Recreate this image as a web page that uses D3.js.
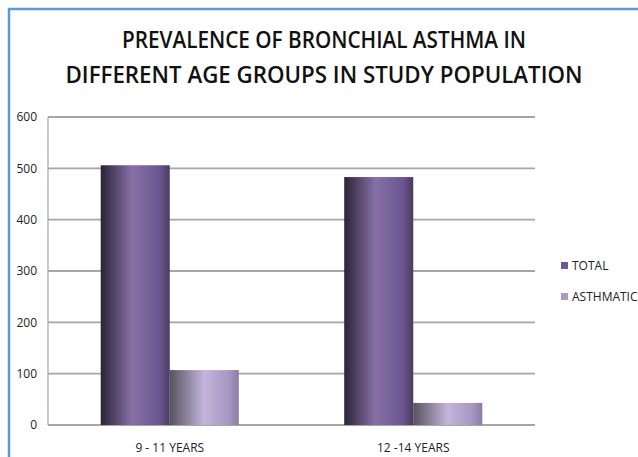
<!DOCTYPE html>
<html>
<head>
<meta charset="utf-8">
<script src="https://cdn.jsdelivr.net/npm/d3@7"></script>
<style>
  body { margin: 0; background: #fff; }
  svg text { font-family: "Liberation Sans Narrow", "Open Sans", sans-serif; }
</style>
</head>
<body>
<div id="visualization"></div>
<script>
/*************************************/
/* Data                              */
/*************************************/

const categories = ['9 - 11 YEARS', '12 -14 YEARS'];
const seriesNames = ['TOTAL', 'ASTHMATIC'];
const totalValues = [506, 483];
const asthmaticValues = [107, 43];
const yTicks = [0, 100, 200, 300, 400, 500, 600];
const titleLines = ['PREVALENCE OF BRONCHIAL ASTHMA IN', 'DIFFERENT AGE GROUPS IN STUDY POPULATION'];

/*************************************/
/* Setup                             */
/*************************************/

const width = 638;
const height = 457;
const margin = { top: 117, right: 103, bottom: 32, left: 48 };

const svg = d3.select('#visualization')
  .append('svg')
  .attr('width', width)
  .attr('height', height);

// gradients for the cylinder-ish bar look
const defs = svg.append('defs');
const gradStops = [
  [['0%', '#2c2338'], ['45%', '#8670a6'], ['85%', '#6c5690'], ['100%', '#4a3a62']],
  [['0%', '#57525c'], ['50%', '#c3b5dc'], ['85%', '#a797c3'], ['100%', '#8a7ca3']]
];
gradStops.forEach((stops, i) => {
  const g = defs.append('linearGradient')
    .attr('id', 'grad' + i)
    .attr('x1', '0%').attr('x2', '100%')
    .attr('y1', '0%').attr('y2', '0%');
  stops.forEach(s => g.append('stop').attr('offset', s[0]).attr('stop-color', s[1]));
});
const legendColors = ['#6f5797', '#a999c9'];

// outer frame (blue border top and left)
svg.append('rect')
  .attr('x', 9).attr('y', 9)
  .attr('width', width + 10).attr('height', height + 10)
  .attr('fill', 'none')
  .attr('stroke', '#5b9bd5')
  .attr('stroke-width', 2.5);

/*************************************/
/* Scales                            */
/*************************************/

const x0 = d3.scaleBand()
  .domain(categories)
  .range([margin.left, width - margin.right])
  .paddingInner(0.433)
  .paddingOuter(0.2165);

const x1 = d3.scaleBand()
  .domain(seriesNames)
  .range([0, x0.bandwidth()]);

const y = d3.scaleLinear()
  .domain([0, 600])
  .range([height - margin.bottom, margin.top]);

/*************************************/
/* Grid and axes                     */
/*************************************/

svg.append('g')
  .selectAll('line')
  .data(yTicks)
  .join('line')
    .attr('x1', margin.left)
    .attr('x2', width - margin.right)
    .attr('y1', d => y(d))
    .attr('y2', d => y(d))
    .attr('stroke', '#a6a6a6')
    .attr('stroke-width', 1.8);

svg.append('line')
  .attr('x1', margin.left).attr('x2', margin.left)
  .attr('y1', y(600)).attr('y2', y(0))
  .attr('stroke', '#a6a6a6')
  .attr('stroke-width', 1.2);

const yAxis = svg.append('g')
  .attr('transform', `translate(${margin.left - 11},0)`)
  .call(d3.axisLeft(y).tickValues(yTicks).tickSize(0).tickPadding(0));
yAxis.select('.domain').remove();
yAxis.selectAll('text')
  .attr('font-size', 12)
  .attr('fill', '#222')
  .style('font-family', '"Open Sans", sans-serif');

const xAxis = svg.append('g')
  .attr('transform', `translate(0,${y(0)})`)
  .call(d3.axisBottom(x0).tickSize(0).tickPadding(18));
xAxis.select('.domain').remove();
xAxis.selectAll('text')
  .attr('font-size', 12)
  .attr('fill', '#222');

/*************************************/
/* Bars                              */
/*************************************/

const rows = categories.map((c, i) => ({
  category: c,
  values: [totalValues[i], asthmaticValues[i]]
}));

svg.append('g')
  .selectAll('g')
  .data(rows)
  .join('g')
    .attr('transform', d => `translate(${x0(d.category)},0)`)
  .selectAll('rect')
  .data(d => d.values.map((v, i) => ({ key: seriesNames[i], value: v, idx: i })))
  .join('rect')
    .attr('x', d => x1(d.key))
    .attr('y', d => y(d.value))
    .attr('width', x1.bandwidth())
    .attr('height', d => y(0) - y(d.value))
    .attr('fill', d => `url(#grad${d.idx})`);

/*************************************/
/* Title                             */
/*************************************/

const titleWidths = [404, 517];
svg.append('g')
  .selectAll('text')
  .data(titleLines)
  .join('text')
    .attr('x', 324)
    .attr('y', (d, i) => 48 + i * 35)
    .attr('text-anchor', 'middle')
    .attr('font-size', 23)
    .attr('font-weight', 600)
    .attr('fill', '#111')
    .attr('textLength', (d, i) => titleWidths[i])
    .attr('lengthAdjust', 'spacingAndGlyphs')
    .text(d => d);

/*************************************/
/* Legend                            */
/*************************************/

const legend = svg.append('g')
  .selectAll('g')
  .data(seriesNames)
  .join('g')
    .attr('transform', (d, i) => `translate(561,${262 + i * 31})`);

legend.append('rect')
  .attr('width', 7)
  .attr('height', 7)
  .attr('fill', (d, i) => legendColors[i]);

legend.append('text')
  .attr('x', 11)
  .attr('y', 8)
  .attr('font-size', 12)
  .attr('fill', '#222')
  .text(d => d);
</script>
</body>
</html>
